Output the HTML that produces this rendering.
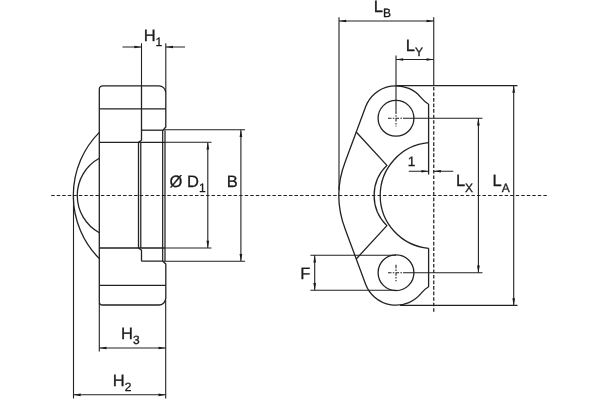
<!DOCTYPE html>
<html><head><meta charset="utf-8"><title>Flange drawing</title>
<style>
html,body{margin:0;padding:0;background:#fff;}
svg{display:block;filter:grayscale(1)}
text{font-family:"Liberation Sans",Arial,sans-serif;fill:#1a1a1a;stroke:#1a1a1a;stroke-width:.3px;text-rendering:geometricPrecision}
.o{stroke:#222;stroke-width:1.3;fill:none;stroke-linejoin:round}
.d{stroke:#222;stroke-width:1.1;fill:none}
.c{stroke:#222;stroke-width:1.1;fill:none;stroke-dasharray:3.43 2.1}
.a{fill:#1a1a1a;stroke:none}
.t{font-size:16.5px}
.s{font-size:12px}
</style></head>
<body>
<svg width="600" height="400" viewBox="0 0 600 400">
<rect width="600" height="400" fill="#fff"/>
<!-- centre lines -->
<line class="c" x1="51.2" y1="195.5" x2="547" y2="195.5"/>
<line class="c" style="stroke-width:1.25;stroke-dasharray:3.6 1.93" x1="433.75" y1="311.8" x2="433.75" y2="85.4"/>
<!-- LEFT VIEW -->
<g class="o">
<path d="M163 130.2L165.8 127V92.8A7 7 0 0 0 158.8 85.8H102.8A3.5 3.5 0 0 0 99.3 89.3V301.7A3.3 3.3 0 0 0 102.6 305H158.8A7 7 0 0 0 165.8 298V264L163 261.2"/>
<path d="M99.3 108.8H165.8M99.3 285.3H165.8"/>
<path d="M141.5 85.8V140.3L138.5 142.4V248L141.5 250.3V260.4Q141.5 261.2 142.3 261.2H163"/>
<path d="M141.5 130.2H163"/>
<path stroke-width="1.15" stroke="#111" d="M140.8 142.4V248M162.7 130.2V261.2M165 130.2V261.2"/>
<path d="M99.3 142.3H165M99.3 248H165"/>
<path d="M99.3 132.4A89.57 89.57 0 0 0 99.3 258.6"/>
<path d="M99.3 158.3A42.4 42.4 0 0 0 99.3 232.7"/>
</g>
<g class="d">
<path d="M141.5 43.2V85.8M165.8 43.2V92"/>
<path d="M122.5 47H141.5M165.8 47H185"/>
<path d="M163 129.8H245M163 261.3H245"/>
<path d="M165 142.3H211.5M165 248H211.5"/>
<path d="M240.9 130V261M207.8 142.5V248"/>
<path d="M99.3 303V351.5M165.7 300V398.5"/>
<path d="M73.5 195.5V398.5"/>
<path d="M99.3 348H165.7M73.5 394.8H165.7"/>
</g>
<g class="a">
<path d="M141.5 47l-7.2 -1.35v2.7z"/>
<path d="M165.8 47l7.2 -1.35v2.7z"/>
<path d="M240.9 129.8l-1.35 7.2h2.7z"/>
<path d="M240.9 261.3l-1.35 -7.2h2.7z"/>
<path d="M207.8 142.3l-1.35 7.2h2.7z"/>
<path d="M207.8 248l-1.35 -7.2h2.7z"/>
<path d="M99.3 348l7.2 -1.35v2.7z"/>
<path d="M165.7 348l-7.2 -1.35v2.7z"/>
<path d="M73.5 394.8l7.2 -1.35v2.7z"/>
<path d="M165.7 394.8l-7.2 -1.35v2.7z"/>
</g>
<text class="t" x="143.7" y="40.6">H<tspan class="s" dy="5.1">1</tspan></text>
<text class="t" x="169.6" y="186.8">Ø D<tspan class="s" dy="5.6">1</tspan></text>
<text class="t" x="226.7" y="186.8">B</text>
<text class="t" x="121.1" y="338.5">H<tspan class="s" dy="5.1">3</tspan></text>
<text class="t" x="112.8" y="386">H<tspan class="s" dy="5.1">2</tspan></text>
<!-- RIGHT VIEW -->
<g class="o">
<path d="M428.6 174.5V104.3C426 102.8 422.9 99.8 421.3 97.90A32.5 32.5 0 0 0 365.70 106.56L345.41 161.27A94.75 94.75 0 0 0 345.41 229.73L365.70 284.44A32.5 32.5 0 0 0 421.3 293.1C422.9 291.2 426 288.2 428.6 286.7V248.3"/>
<path d="M428.6 142.7A53 53 0 0 0 428.6 248.3"/>
<path d="M356.2 132L386.9 165.4A41.8 41.8 0 0 0 386.9 225.6L356.2 259.0"/>
<circle cx="396" cy="118.3" r="17.9"/><circle cx="396" cy="272.7" r="17.9"/>
</g>
<g class="d">
<path d="M339 17.2V190M433.75 17.2V85.4"/>
<path d="M339 21H433.75"/>
<path d="M396 55.5V110.5"/>
<path d="M396 59.5H433.75"/>
<path d="M403 118.3H482.5M403 272.7H482.5"/>
<path d="M396 85.6H517.5M400 305.4H517.5"/>
<path d="M478.4 118.3V272.7M513.7 85.6V305.4"/>
<path d="M408.75 171.25H428.6M433.75 171.25H453.25"/>
<path d="M310.4 255.3H396M310.4 290.2H396M314.7 255.3V290.2"/>
<path d="M388 118.3H403M396 110.5V126.5M388 272.7H403M396 264.7V281.2" stroke-dasharray="3.5 1.3 1.5 1.3"/>
</g>
<g class="a">
<path d="M339 21l7.2 -1.35v2.7z"/>
<path d="M433.75 21l-7.2 -1.35v2.7z"/>
<path d="M396 59.5l7.2 -1.35v2.7z"/>
<path d="M433.75 59.5l-7.2 -1.35v2.7z"/>
<path d="M478.4 118.3l-1.35 7.2h2.7z"/>
<path d="M478.4 272.7l-1.35 -7.2h2.7z"/>
<path d="M513.7 85.6l-1.35 7.2h2.7z"/>
<path d="M513.7 305.4l-1.35 -7.2h2.7z"/>
<path d="M428.6 171.25l-7.2 -1.35v2.7z"/>
<path d="M433.75 171.25l7.2 -1.35v2.7z"/>
<path d="M314.7 255.3l-1.35 7.2h2.7z"/>
<path d="M314.7 290.2l-1.35 -7.2h2.7z"/>
</g>
<text class="t" x="373.7" y="11.6">L<tspan class="s" dy="5.1">B</tspan></text>
<text class="t" x="405.7" y="50.6">L<tspan class="s" dy="5.1">Y</tspan></text>
<text class="t" x="455.9" y="186.4">L<tspan class="s" dy="5.1">X</tspan></text>
<text class="t" x="492.5" y="186.4">L<tspan class="s" dy="5.1">A</tspan></text>
<text x="407.7" y="166.3" style="font-size:13.5px">1</text>
<text class="t" x="300.3" y="278.6">F</text>
</svg>
</body></html>
